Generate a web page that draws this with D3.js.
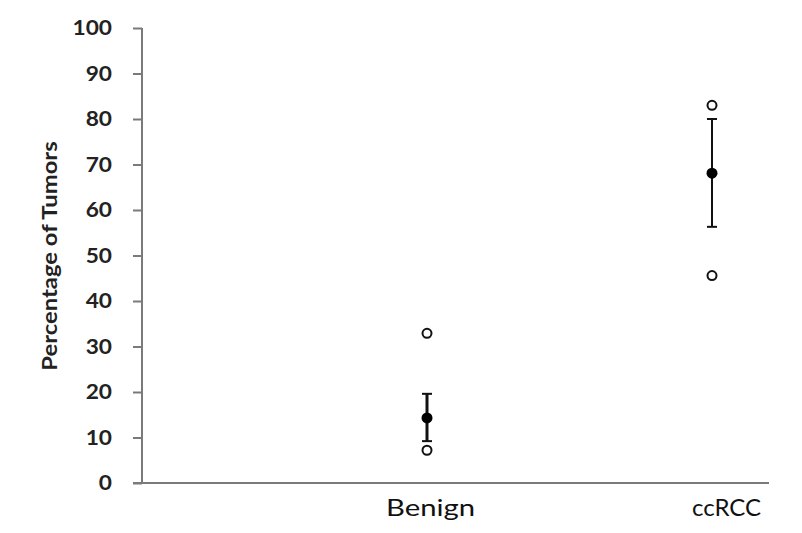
<!DOCTYPE html>
<html><head><meta charset="utf-8">
<script src="https://cdn.jsdelivr.net/npm/d3@7"></script>
<style>body{margin:0;background:#fff}svg{display:block}</style>
</head><body>
<svg id="c" width="802" height="533"></svg>
<script>
const categories = ["Benign", "ccRCC"];
const catPos = [1, 2];
const means = [14.3, 68.1];
const errLow = [9.2, 56.3];
const errHigh = [19.6, 80.0];
const rangeMin = [7.2, 45.6];
const rangeMax = [32.9, 83.0];
const yTicks = [0,10,20,30,40,50,60,70,80,90,100];

const FONT = "Lato, 'Open Sans', sans-serif";
const svg = d3.select("#c");
const x = d3.scaleLinear().domain([0, 2.2]).range([142, 769]);
const y = d3.scaleLinear().domain([0, 100]).range([483, 28]);

function widen(sel, f){
  sel.each(function(d,i){
    const k = typeof f === "function" ? f(d,i) : f;
    const w = this.getComputedTextLength();
    d3.select(this).attr("textLength", w*k).attr("lengthAdjust","spacingAndGlyphs");
  });
}

const yAxis = svg.append("g").attr("transform","translate(142,0)")
  .call(d3.axisLeft(y).tickValues(yTicks).tickSize(9).tickPadding(21));
yAxis.selectAll("path,line").attr("stroke","#7a7a7a").attr("stroke-width",2);
yAxis.select("path").attr("d","M0,28V483");
yAxis.selectAll("text").attr("font-family",FONT).attr("font-size",21)
  .attr("font-weight","bold").attr("fill","#222");
widen(yAxis.selectAll("text"), 1.08);

const labelShift = [3, 14];
const labelWiden = [1.22, 1.0];
const xAxis = svg.append("g").attr("transform","translate(0,483)")
  .call(d3.axisBottom(x).tickValues(catPos).tickFormat((d,i)=>categories[i]).tickSize(0).tickPadding(16));
xAxis.select("path").attr("stroke","#7a7a7a").attr("stroke-width",2).attr("d","M133,0H769");
xAxis.selectAll("text").attr("font-family",FONT).attr("font-size",24)
  .attr("fill","#111").attr("dx",(d,i)=>labelShift[i]);
widen(xAxis.selectAll("text"), (d,i)=>labelWiden[i]);

const yl = svg.append("text").attr("transform","translate(57,256) rotate(-90)")
  .attr("text-anchor","middle").attr("font-family",FONT)
  .attr("font-size",20).attr("font-weight","bold").attr("fill","#222")
  .text("Percentage of Tumors");
widen(yl, 1.19);

const g = svg.append("g");
catPos.forEach((p,i)=>{
  const cx = x(p);
  g.append("line").attr("x1",cx).attr("x2",cx).attr("y1",y(errLow[i])).attr("y2",y(errHigh[i]))
    .attr("stroke","#111").attr("stroke-width", i===0?3:2);
  [errLow[i], errHigh[i]].forEach(v=>{
    g.append("line").attr("x1",cx-5).attr("x2",cx+5).attr("y1",y(v)).attr("y2",y(v))
      .attr("stroke","#111").attr("stroke-width",2);
  });
  g.append("circle").attr("cx",cx).attr("cy",y(means[i])).attr("r",5.5).attr("fill","#000");
  [rangeMin[i], rangeMax[i]].forEach(v=>{
    g.append("circle").attr("cx",cx).attr("cy",y(v)).attr("r",4.5)
      .attr("fill","#fff").attr("stroke","#111").attr("stroke-width",2);
  });
});
</script>
</body></html>
